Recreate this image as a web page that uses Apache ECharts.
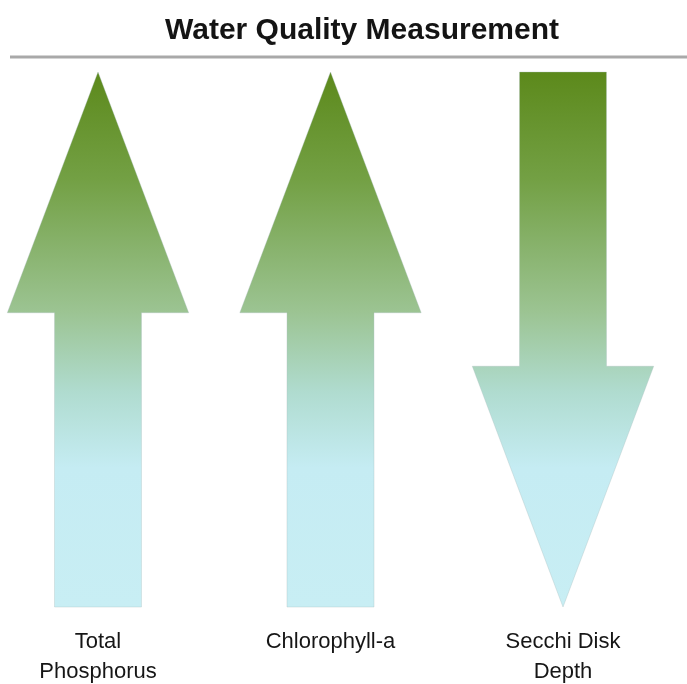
<!DOCTYPE html>
<html>
<head>
<meta charset="utf-8">
<title>Water Quality Measurement</title>
<script src="https://cdn.jsdelivr.net/npm/echarts@6/dist/echarts.min.js"></script>
<style>
  html, body { margin: 0; padding: 0; background: #ffffff; }
  #chart { width: 687px; height: 684px; }
</style>
</head>
<body>
<div id="chart"></div>
<script>
// categories and trend of each measurement (1 = increasing, -1 = decreasing)
var categories = ['Total\nPhosphorus', 'Chlorophyll-a', 'Secchi Disk\nDepth'];
var trend = [1, 1, -1];
// arrow runs over the whole value range
var valueRange = [0, 100];

var chart = echarts.init(document.getElementById('chart'));

var data = trend.map(function (d, i) { return [i, d]; });

// green at the top fading to light cyan at the bottom
var stops = [
    {offset: 0, color: '#5c891b'},
    {offset: 0.2, color: '#73a044'},
    {offset: 0.45, color: '#9cc493'},
    {offset: 0.6, color: '#b0dcd0'},
    {offset: 0.74, color: '#c5ecf3'},
    {offset: 1, color: '#c8eef4'}
];

function renderArrow(params, api) {
    var i = api.value(0);
    var dir = api.value(1);
    var top = api.coord([i, valueRange[1]]);
    var bot = api.coord([i, valueRange[0]]);
    var band = api.size([1, 0])[0];
    var cx = top[0];
    var headHalf = band * 0.39;
    var shaftHalf = band * 0.187;
    var headLen = (bot[1] - top[1]) * 0.45;
    var pts;
    if (dir > 0) {
        var hb = top[1] + headLen;
        pts = [
            [cx, top[1]],
            [cx + headHalf, hb],
            [cx + shaftHalf, hb],
            [cx + shaftHalf, bot[1]],
            [cx - shaftHalf, bot[1]],
            [cx - shaftHalf, hb],
            [cx - headHalf, hb]
        ];
    } else {
        var hb2 = bot[1] - headLen;
        pts = [
            [cx - shaftHalf, top[1]],
            [cx + shaftHalf, top[1]],
            [cx + shaftHalf, hb2],
            [cx + headHalf, hb2],
            [cx, bot[1]],
            [cx - headHalf, hb2],
            [cx - shaftHalf, hb2]
        ];
    }
    return {
        type: 'polygon',
        shape: {points: pts},
        style: {
            fill: {
                type: 'linear',
                x: 0, y: top[1], x2: 0, y2: bot[1],
                global: true,
                colorStops: stops
            },
            stroke: 'rgba(170,190,190,0.35)',
            lineWidth: 1
        }
    };
}

var option = {
    backgroundColor: '#ffffff',
    title: {
        text: 'Water Quality Measurement',
        left: 357,
        textAlign: 'center',
        top: 11,
        textStyle: {
            fontFamily: 'Liberation Sans, Arial, sans-serif',
            fontSize: 30,
            fontWeight: 'bold',
            color: '#141414'
        }
    },
    graphic: [{
        type: 'line',
        shape: {x1: 10, y1: 57, x2: 687, y2: 57},
        style: {stroke: '#a9a9a9', lineWidth: 3}
    }],
    grid: {
        left: 98,
        right: 124,
        top: 72,
        bottom: 77,
        outerBoundsMode: 'none'
    },
    xAxis: {
        type: 'category',
        data: categories,
        boundaryGap: false,
        axisLine: {show: false},
        axisTick: {show: false},
        splitLine: {show: false},
        axisLabel: {
            margin: 20,
            fontFamily: 'Liberation Sans, Arial, sans-serif',
            fontSize: 22,
            lineHeight: 30,
            color: '#161616'
        }
    },
    yAxis: {
        type: 'value',
        min: valueRange[0],
        max: valueRange[1],
        show: false
    },
    series: [{
        type: 'custom',
        renderItem: renderArrow,
        data: data,
        silent: true
    }]
};
chart.setOption(option);
</script>
</body>
</html>
